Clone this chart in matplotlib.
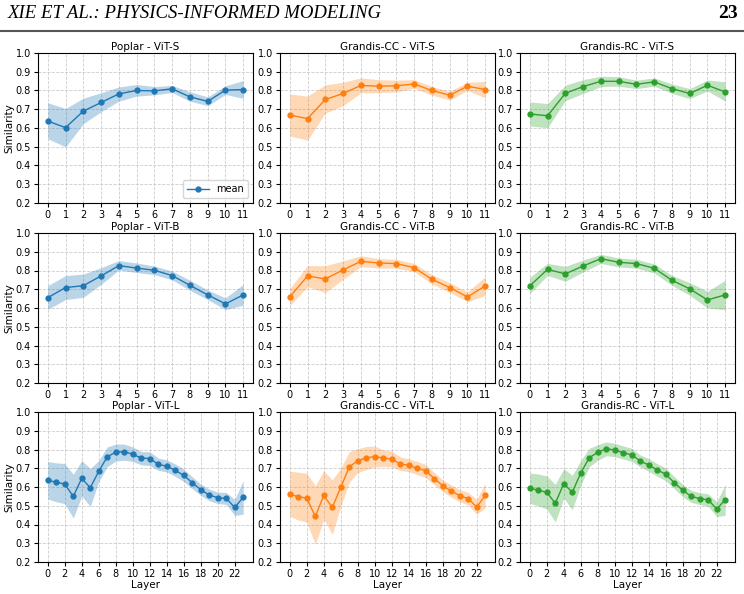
import numpy as np
import matplotlib
matplotlib.use('Agg')
import matplotlib.pyplot as plt
from matplotlib.lines import Line2D

# Layer indices
layers_12 = list(range(12))
layers_24 = list(range(24))

# ViT-S
poplar_s_mean = [0.637, 0.602, 0.690, 0.736, 0.782, 0.800, 0.798, 0.809, 0.766, 0.742, 0.802, 0.805]
poplar_s_hi = [0.735, 0.704, 0.759, 0.788, 0.819, 0.832, 0.821, 0.827, 0.793, 0.766, 0.825, 0.853]
poplar_s_lo = [0.543, 0.499, 0.623, 0.687, 0.743, 0.770, 0.777, 0.789, 0.743, 0.719, 0.779, 0.758]

cc_s_mean = [0.669, 0.650, 0.752, 0.784, 0.827, 0.823, 0.825, 0.835, 0.800, 0.775, 0.823, 0.805]
cc_s_hi = [0.782, 0.770, 0.830, 0.844, 0.867, 0.858, 0.855, 0.858, 0.821, 0.796, 0.844, 0.848]
cc_s_lo = [0.558, 0.535, 0.680, 0.719, 0.788, 0.788, 0.793, 0.812, 0.775, 0.750, 0.800, 0.761]

rc_s_mean = [0.675, 0.665, 0.785, 0.821, 0.849, 0.849, 0.833, 0.846, 0.810, 0.784, 0.828, 0.792]
rc_s_hi = [0.739, 0.730, 0.828, 0.858, 0.876, 0.874, 0.855, 0.867, 0.835, 0.810, 0.856, 0.846]
rc_s_lo = [0.611, 0.601, 0.746, 0.784, 0.821, 0.823, 0.810, 0.823, 0.785, 0.757, 0.798, 0.743]

# ViT-B
poplar_b_mean = [0.655, 0.709, 0.719, 0.771, 0.826, 0.813, 0.801, 0.773, 0.721, 0.670, 0.622, 0.670]
poplar_b_hi = [0.719, 0.773, 0.781, 0.815, 0.853, 0.840, 0.824, 0.797, 0.748, 0.696, 0.654, 0.726]
poplar_b_lo = [0.593, 0.645, 0.657, 0.726, 0.803, 0.789, 0.778, 0.750, 0.694, 0.645, 0.591, 0.615]

cc_b_mean = [0.659, 0.771, 0.755, 0.803, 0.849, 0.840, 0.837, 0.815, 0.753, 0.709, 0.659, 0.718]
cc_b_hi = [0.705, 0.826, 0.826, 0.851, 0.879, 0.863, 0.860, 0.837, 0.778, 0.735, 0.686, 0.767]
cc_b_lo = [0.613, 0.714, 0.682, 0.753, 0.821, 0.813, 0.813, 0.794, 0.728, 0.684, 0.634, 0.668]

rc_b_mean = [0.718, 0.806, 0.782, 0.824, 0.863, 0.844, 0.837, 0.812, 0.748, 0.702, 0.643, 0.670]
rc_b_hi = [0.764, 0.838, 0.822, 0.856, 0.886, 0.867, 0.860, 0.835, 0.774, 0.735, 0.689, 0.748]
rc_b_lo = [0.677, 0.774, 0.742, 0.792, 0.838, 0.819, 0.812, 0.787, 0.721, 0.668, 0.600, 0.591]

# ViT-L
poplar_l_mean = [0.636, 0.625, 0.616, 0.550, 0.646, 0.596, 0.684, 0.761, 0.786, 0.788, 0.775, 0.754,
                 0.752, 0.721, 0.711, 0.689, 0.662, 0.623, 0.586, 0.557, 0.543, 0.539, 0.491, 0.545]
poplar_l_hi = [0.736, 0.729, 0.725, 0.668, 0.741, 0.698, 0.741, 0.814, 0.829, 0.829, 0.814, 0.789,
               0.788, 0.754, 0.745, 0.723, 0.696, 0.654, 0.616, 0.589, 0.573, 0.571, 0.534, 0.634]
poplar_l_lo = [0.536, 0.521, 0.511, 0.434, 0.552, 0.496, 0.629, 0.709, 0.738, 0.743, 0.736, 0.718,
               0.714, 0.689, 0.680, 0.657, 0.629, 0.591, 0.555, 0.527, 0.512, 0.507, 0.448, 0.455]

cc_l_mean = [0.562, 0.548, 0.541, 0.443, 0.555, 0.491, 0.598, 0.707, 0.741, 0.755, 0.762, 0.754,
             0.750, 0.723, 0.716, 0.700, 0.686, 0.645, 0.607, 0.579, 0.554, 0.538, 0.493, 0.555]
cc_l_hi = [0.684, 0.679, 0.673, 0.607, 0.686, 0.638, 0.700, 0.789, 0.804, 0.816, 0.818, 0.798,
           0.791, 0.761, 0.750, 0.736, 0.720, 0.677, 0.638, 0.611, 0.586, 0.571, 0.534, 0.621]
cc_l_lo = [0.445, 0.423, 0.413, 0.293, 0.429, 0.348, 0.496, 0.625, 0.677, 0.693, 0.707, 0.709,
           0.707, 0.688, 0.682, 0.666, 0.650, 0.612, 0.575, 0.545, 0.521, 0.504, 0.455, 0.489]

rc_l_mean = [0.595, 0.582, 0.572, 0.513, 0.618, 0.572, 0.675, 0.756, 0.785, 0.804, 0.797, 0.783,
             0.771, 0.739, 0.717, 0.691, 0.668, 0.623, 0.582, 0.550, 0.538, 0.531, 0.483, 0.532]
rc_l_hi = [0.675, 0.669, 0.659, 0.614, 0.698, 0.662, 0.742, 0.806, 0.826, 0.840, 0.833, 0.819,
           0.806, 0.771, 0.751, 0.724, 0.701, 0.655, 0.614, 0.582, 0.570, 0.563, 0.522, 0.612]
rc_l_lo = [0.513, 0.499, 0.483, 0.413, 0.540, 0.479, 0.611, 0.708, 0.742, 0.767, 0.762, 0.749,
           0.737, 0.707, 0.684, 0.657, 0.634, 0.591, 0.548, 0.518, 0.506, 0.497, 0.442, 0.449]

datasets = ['Poplar', 'Grandis-CC', 'Grandis-RC']
models = ['ViT-S', 'ViT-B', 'ViT-L']
colors = ['#1f77b4', '#ff7f0e', '#2ca02c']

panels = [
    [(poplar_s_mean, poplar_s_lo, poplar_s_hi), (cc_s_mean, cc_s_lo, cc_s_hi), (rc_s_mean, rc_s_lo, rc_s_hi)],
    [(poplar_b_mean, poplar_b_lo, poplar_b_hi), (cc_b_mean, cc_b_lo, cc_b_hi), (rc_b_mean, rc_b_lo, rc_b_hi)],
    [(poplar_l_mean, poplar_l_lo, poplar_l_hi), (cc_l_mean, cc_l_lo, cc_l_hi), (rc_l_mean, rc_l_lo, rc_l_hi)],
]

fsize = 7
plt.rcParams['font.family'] = 'DejaVu Sans'
plt.rcParams['font.size'] = fsize

fig = plt.figure(figsize=(7.44, 5.94), dpi=100)
W, H = 744.0, 594.0

# Kopfzeile der Seite
fig.text(8 / W, 1 - 14 / H, 'XIE ET AL.: PHYSICS-INFORMED MODELING', family='Liberation Serif',
         style='italic', fontsize=13.5, ha='left', va='center')
fig.text(738 / W, 1 - 14 / H, '23', family='Liberation Serif', weight='bold',
         fontsize=14, ha='right', va='center')
fig.add_artist(Line2D([0, 1], [1 - 31 / H, 1 - 31 / H], color='#555555', lw=1.5,
                      transform=fig.transFigure))

lefts = [38, 280, 520]
tops = [53, 233, 412]
aw, ah = 215, 150

for r in range(3):
    for c in range(3):
        ax = fig.add_axes([lefts[c] / W, 1 - (tops[r] + ah) / H, aw / W, ah / H])
        mean, lo, hi = panels[r][c]
        x = layers_24 if r == 2 else layers_12
        col = colors[c]
        ax.fill_between(x, lo, hi, color=col, alpha=0.3, linewidth=0)
        ax.plot(x, mean, color=col, marker='o', markersize=3.5, linewidth=1, label='mean')
        ax.set_ylim(0.2, 1.0)
        ax.set_yticks(np.arange(0.2, 1.01, 0.1))
        if r == 2:
            ax.set_xticks(layers_24[::2])
            ax.set_xlabel('Layer', fontsize=7.5, labelpad=1)
        else:
            ax.set_xticks(layers_12)
        ax.grid(True, linestyle='--', color='#cccccc', linewidth=0.6)
        ax.set_axisbelow(True)
        ax.tick_params(labelsize=fsize, pad=2, length=3)
        ax.set_title('%s - %s' % (datasets[c], models[r]), fontsize=7.5, pad=2)
        if c == 0:
            ax.set_ylabel('Similarity', fontsize=7.5)
            ax.yaxis.set_label_coords(-0.108, 0.5)
        if r == 0 and c == 0:
            ax.legend(loc='lower right', fontsize=7, handlelength=2.2)

plt.savefig('out.png', dpi=100)
